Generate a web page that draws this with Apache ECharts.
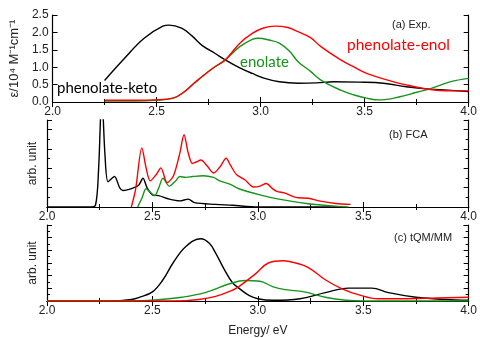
<!DOCTYPE html>
<html>
<head>
<meta charset="utf-8">
<script src="https://cdn.jsdelivr.net/npm/echarts@6/dist/echarts.min.js"></script>
<style>
  html, body { margin: 0; padding: 0; background: #fff; }
  #chart { width: 480px; height: 338px; }
</style>
</head>
<body>
<div id="chart"></div>
<script>
// (a) Exp. — energy (eV) and epsilon / 10^4 M^-1 cm^-1
const expKetoX = [2.25, 2.345, 2.44, 2.53, 2.56, 2.62, 2.67, 2.72, 2.78, 2.83, 2.90, 2.96, 3.02, 3.09, 3.18, 3.27, 3.35, 3.47, 3.59, 3.70, 3.81, 3.90, 4.0];
const expKetoY = [0.62, 1.25, 1.83, 2.18, 2.21, 2.12, 1.90, 1.62, 1.40, 1.21, 0.98, 0.82, 0.68, 0.58, 0.54, 0.55, 0.58, 0.57, 0.54, 0.44, 0.37, 0.34, 0.30];
const expEnolX = [2.25, 2.4, 2.49, 2.58, 2.63, 2.68, 2.77, 2.83, 2.90, 2.96, 3.01, 3.07, 3.13, 3.18, 3.24, 3.29, 3.385, 3.45, 3.51, 3.57, 3.64, 3.71, 3.78, 3.86, 3.93, 4.0];
const expEnolY = [0.05, 0.05, 0.06, 0.11, 0.28, 0.54, 0.97, 1.21, 1.69, 1.97, 2.12, 2.18, 2.14, 2.02, 1.85, 1.59, 1.21, 1.00, 0.82, 0.70, 0.58, 0.48, 0.39, 0.33, 0.32, 0.32];
const expEnolateX = [2.25, 2.4, 2.49, 2.58, 2.63, 2.68, 2.77, 2.83, 2.90, 2.96, 2.99, 3.04, 3.09, 3.14, 3.18, 3.24, 3.29, 3.385, 3.45, 3.51, 3.57, 3.67, 3.75, 3.82, 3.91, 4.0];
const expEnolateY = [0.03, 0.03, 0.05, 0.11, 0.28, 0.54, 0.97, 1.21, 1.59, 1.80, 1.83, 1.78, 1.69, 1.45, 1.16, 0.88, 0.63, 0.34, 0.20, 0.11, 0.06, 0.15, 0.28, 0.39, 0.58, 0.68];

// (b) FCA — arbitrary units (0..1 of panel height)
const fcaKetoX = [2.0, 2.2, 2.23, 2.245, 2.26, 2.275, 2.29, 2.32, 2.345, 2.36, 2.385, 2.41, 2.435, 2.455, 2.475, 2.50, 2.53, 2.58, 2.63, 2.67, 2.70, 2.80, 2.88, 3.0, 3.4];
const fcaKetoY = [0, 0, 0.02, 0.45, 1.3, 0.6, 0.29, 0.35, 0.22, 0.19, 0.2, 0.22, 0.25, 0.33, 0.22, 0.14, 0.13, 0.09, 0.07, 0.09, 0.05, 0.03, 0.02, 0.0, 0.0];
const fcaEnolX = [2.40, 2.42, 2.45, 2.47, 2.49, 2.52, 2.54, 2.57, 2.60, 2.63, 2.65, 2.67, 2.69, 2.71, 2.73, 2.76, 2.79, 2.82, 2.85, 2.87, 2.90, 2.94, 2.98, 3.01, 3.04, 3.07, 3.09, 3.13, 3.18, 3.24, 3.29, 3.37, 3.44];
const fcaEnolY = [0, 0.2, 0.68, 0.45, 0.30, 0.38, 0.45, 0.28, 0.36, 0.62, 0.83, 0.62, 0.50, 0.52, 0.54, 0.47, 0.39, 0.46, 0.56, 0.48, 0.37, 0.31, 0.23, 0.24, 0.27, 0.21, 0.18, 0.16, 0.11, 0.10, 0.07, 0.04, 0.03];
const fcaEnolateX = [2.43, 2.45, 2.47, 2.49, 2.51, 2.53, 2.55, 2.58, 2.61, 2.63, 2.66, 2.69, 2.74, 2.79, 2.82, 2.87, 2.91, 3.01, 3.10, 3.23, 3.37, 3.43];
const fcaEnolateY = [0, 0.1, 0.21, 0.17, 0.13, 0.22, 0.33, 0.24, 0.30, 0.35, 0.34, 0.35, 0.36, 0.34, 0.30, 0.26, 0.21, 0.14, 0.09, 0.04, 0.01, 0];

// (c) tQM/MM — arbitrary units (0..1 of panel height)
const qmKetoX = [2.0, 2.3, 2.4, 2.44, 2.50, 2.55, 2.60, 2.66, 2.73, 2.77, 2.80, 2.84, 2.88, 2.91, 2.96, 3.0, 3.07, 3.20, 3.32, 3.43, 3.54, 3.62, 3.75, 3.89, 4.0];
const qmKetoY = [0, 0, 0.02, 0.05, 0.12, 0.28, 0.51, 0.72, 0.82, 0.76, 0.63, 0.42, 0.24, 0.17, 0.07, 0.03, 0.01, 0.03, 0.11, 0.17, 0.17, 0.11, 0.05, 0.02, 0.01];
const qmEnolX = [2.0, 2.6, 2.72, 2.8, 2.87, 2.91, 2.99, 3.05, 3.12, 3.18, 3.24, 3.32, 3.40, 3.48, 3.57, 3.71, 3.85, 4.0];
const qmEnolY = [0, 0, 0.02, 0.06, 0.13, 0.19, 0.36, 0.50, 0.53, 0.50, 0.44, 0.28, 0.16, 0.08, 0.03, 0.03, 0.04, 0.05];
const qmEnolateX = [2.0, 2.4, 2.5, 2.64, 2.75, 2.87, 2.94, 3.01, 3.07, 3.13, 3.22, 3.32, 3.42, 3.5, 4.0];
const qmEnolateY = [0, 0, 0.01, 0.05, 0.11, 0.23, 0.27, 0.26, 0.19, 0.15, 0.12, 0.05, 0.01, 0, 0];

const xTicks = ["2.0", "2.5", "3.0", "3.5", "4.0"];
const yTicksA = ["0.0", "0.5", "1.0", "1.5", "2.0", "2.5"];

const RED = "#ff0000";
const GREEN = "#17951a";
const BLACK = "#000000";
const FONT = "Liberation Sans";

const pairs = (xs, ys) => xs.map((x, i) => [x, ys[i]]);

const grids = [
  { left: 47, right: 10, top: 15, height: 87 },
  { left: 47, right: 10, top: 120, height: 87 },
  { left: 47, right: 10, top: 225, height: 86 },
];

const axisLine = { show: true, lineStyle: { color: BLACK, width: 1.2 } };

const xAxes = [];
const yAxes = [];
grids.forEach((g, i) => {
  xAxes.push({
    type: "value", gridIndex: i, min: 2, max: 4, interval: 0.5, position: "bottom",
    axisLine, splitLine: { show: false },
    axisTick: { inside: true, length: 5, lineStyle: { color: BLACK } },
    minorTick: { show: true, splitNumber: 2, length: 3, lineStyle: { color: BLACK } },
    axisLabel: { color: "#222", fontFamily: FONT, fontSize: 12, margin: 4,
      formatter: (v) => xTicks[Math.round((v - 2) / 0.5)] },
    name: i === 2 ? "Energy/ eV" : "", nameLocation: "middle", nameGap: 24,
    nameTextStyle: { color: "#222", fontFamily: FONT, fontSize: 12 },
  });
  xAxes.push({
    type: "value", gridIndex: i, min: 2, max: 4, interval: 0.5, position: "top",
    axisLine, splitLine: { show: false },
    axisTick: { inside: true, length: 5, lineStyle: { color: BLACK } },
    minorTick: { show: true, splitNumber: 2, length: 3, lineStyle: { color: BLACK } },
    axisLabel: { show: false },
  });
});

// y axes: (a) labelled, (b) and (c) arbitrary units
const yConf = [
  { min: 0, max: 2.5, interval: 0.5, minor: false, label: true,
    name: "ε/10\u2074 M\u207B\u00B9cm\u207B\u00B9", gap: 30, size: 13 },
  { min: 0, max: 1, interval: 1 / 4.5, minor: true, label: false, name: "arb. unit", gap: 8, size: 12 },
  { min: 0, max: 1, interval: 1 / 6, minor: true, label: false, name: "arb. unit", gap: 8, size: 12 },
];
yConf.forEach((c, i) => {
  const tick = { inside: true, length: 5, lineStyle: { color: BLACK } };
  const minorTick = { show: c.minor, splitNumber: 2, length: 3, lineStyle: { color: BLACK } };
  yAxes.push({
    type: "value", gridIndex: i, min: c.min, max: c.max, interval: c.interval, position: "left",
    axisLine, splitLine: { show: false }, axisTick: tick, minorTick,
    axisLabel: { show: c.label, color: "#222", fontFamily: FONT, fontSize: 12, margin: 4,
      formatter: (v) => yTicksA[Math.round(v / 0.5)] },
    name: c.name, nameLocation: "middle", nameGap: c.gap, nameRotate: 90,
    nameTextStyle: { color: "#222", fontFamily: FONT, fontSize: c.size },
  });
  yAxes.push({
    type: "value", gridIndex: i, min: c.min, max: c.max, interval: c.interval, position: "right",
    axisLine, splitLine: { show: false }, axisTick: tick, minorTick,
    axisLabel: { show: false },
  });
});

const line = (data, color, panel, smooth) => ({
  type: "line", data, xAxisIndex: panel * 2, yAxisIndex: panel * 2,
  showSymbol: false, symbol: "none", smooth, clip: true,
  lineStyle: { color, width: 1.4 }, animation: false,
});

const series = [
  line(pairs(expKetoX, expKetoY), BLACK, 0, 0.4),
  line(pairs(expEnolateX, expEnolateY), GREEN, 0, 0.4),
  line(pairs(expEnolX, expEnolY), RED, 0, 0.4),
  line(pairs(fcaKetoX, fcaKetoY), BLACK, 1, 0.3),
  line(pairs(fcaEnolateX, fcaEnolateY), GREEN, 1, 0.3),
  line(pairs(fcaEnolX, fcaEnolY), RED, 1, 0.3),
  line(pairs(qmKetoX, qmKetoY), BLACK, 2, 0.4),
  line(pairs(qmEnolateX, qmEnolateY), GREEN, 2, 0.4),
  line(pairs(qmEnolX, qmEnolY), RED, 2, 0.4),
];

const chart = echarts.init(document.getElementById("chart"), null, { renderer: "canvas" });
chart.setOption({
  animation: false,
  backgroundColor: "#fff",
  grid: grids,
  xAxis: xAxes,
  yAxis: yAxes,
  series,
  graphic: [
    { type: "text", x: 57, y: 88, style: { text: "phenolate-keto", fill: BLACK, fontSize: 15, fontFamily: "Lato", verticalAlign: "middle" }, z: 10 },
    { type: "text", x: 240, y: 62, style: { text: "enolate", fill: GREEN, fontSize: 15, fontFamily: "Lato", verticalAlign: "middle" }, z: 10 },
    { type: "text", x: 347, y: 45, style: { text: "phenolate-enol", fill: RED, fontSize: 15.5, fontFamily: "Lato", verticalAlign: "middle" }, z: 10 },
    { type: "text", x: 392, y: 25, style: { text: "(a) Exp.", fill: "#222", fontSize: 11, fontFamily: FONT, verticalAlign: "middle" }, z: 10 },
    { type: "text", x: 389, y: 135, style: { text: "(b) FCA", fill: "#222", fontSize: 11, fontFamily: FONT, verticalAlign: "middle" }, z: 10 },
    { type: "text", x: 394, y: 238, style: { text: "(c) tQM/MM", fill: "#222", fontSize: 11, fontFamily: FONT, verticalAlign: "middle" }, z: 10 },
  ],
});
</script>
</body>
</html>
